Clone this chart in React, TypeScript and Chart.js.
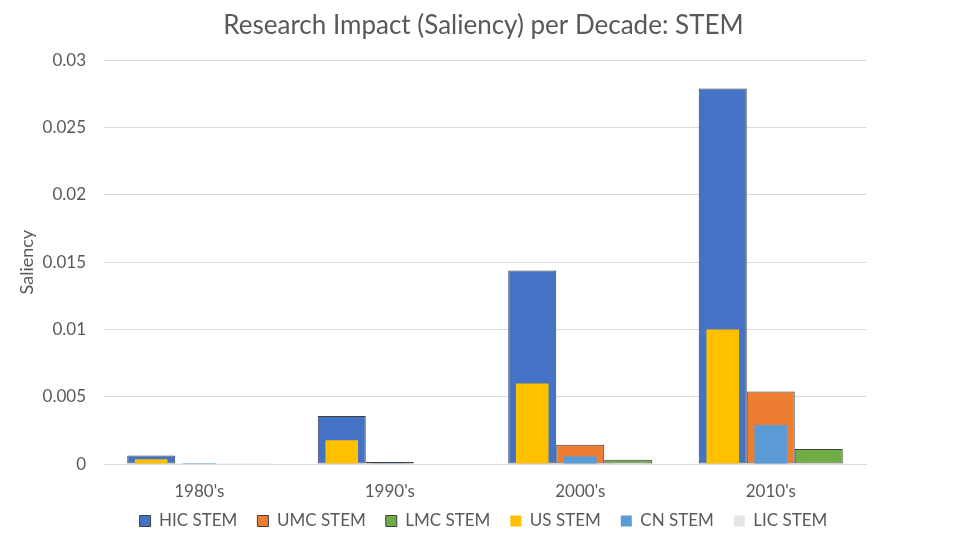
import React, { useEffect, useRef } from 'react';
import { Chart, registerables } from 'chart.js';

Chart.register(...registerables);

// values
const decades = ["1980's", "1990's", "2000's", "2010's"];
const hicStem = [0.00063, 0.00358, 0.01438, 0.0279];
const umcStem = [0.00003, 0.00015, 0.00143, 0.00539];
const lmcStem = [0.00002, 0.00004, 0.00033, 0.00113];
const usStem = [0.00036, 0.00177, 0.00598, 0.01];
const cnStem = [0.000005, 0.00002, 0.00058, 0.00291];
const licStem = [0, 0, 0.00001, 0.00002];

const FONT = 'Lato';
const TEXT = '#595959';

// the legend takes less room than Chart.js asks for, and its row is pulled up under the axis labels
const legendPlacement = {
  id: 'legendPlacement',
  afterInit(chart: any) {
    const legend = chart.legend;
    if (!legend) return;
    const fit = legend.fit;
    legend.fit = function () {
      fit.call(this);
      this.height = 25.5;
    };
  },
  afterLayout(chart: any) {
    const legend = chart.legend;
    if (!legend) return;
    legend.top = 492.5;
    legend.height = 51;
    legend.bottom = legend.top + legend.height;
  },
};

const App = () => {
  const chartRef = useRef<HTMLCanvasElement | null>(null);
  const chartInstance = useRef<Chart | null>(null);

  useEffect(() => {
    document.body.style.margin = '0';
    if (!chartRef.current) return;
    if (chartInstance.current) chartInstance.current.destroy();

    // outer bars and the narrower bars drawn over them share a slot (same stack id)
    const outer = { order: 2, barPercentage: 1, categoryPercentage: 0.756, borderWidth: 1, borderColor: '#3f3f3f', borderSkipped: false as const };
    const inner = { order: 1, barPercentage: 0.68, categoryPercentage: 0.756, borderWidth: 0 };

    chartInstance.current = new Chart(chartRef.current, {
      type: 'bar',
      data: {
        labels: decades,
        datasets: [
          { label: 'HIC STEM', data: hicStem, backgroundColor: '#4472C4', stack: 'a', ...outer },
          { label: 'UMC STEM', data: umcStem, backgroundColor: '#ED7D31', stack: 'b', ...outer },
          { label: 'LMC STEM', data: lmcStem, backgroundColor: '#70AD47', stack: 'c', ...outer },
          { label: 'US STEM', data: usStem, backgroundColor: '#FFC000', stack: 'a', ...inner },
          { label: 'CN STEM', data: cnStem, backgroundColor: '#5B9BD5', stack: 'b', ...inner },
          { label: 'LIC STEM', data: licStem, backgroundColor: '#E7E6E6', stack: 'c', ...inner },
        ],
      },
      plugins: [legendPlacement],
      options: {
        responsive: true,
        maintainAspectRatio: false,
        animation: false,
        layout: { padding: 0 },
        plugins: {
          title: {
            display: true,
            text: 'Research Impact (Saliency) per Decade: STEM',
            color: TEXT,
            font: { family: FONT, size: 26, weight: 'normal' },
            padding: { top: 10.5, bottom: 18.5 },
          },
          legend: {
            position: 'bottom',
            labels: {
              color: TEXT,
              font: { family: FONT, size: 17 },
              boxWidth: 11,
              boxHeight: 11,
              padding: 20,
              sort: (a, b) => (a.datasetIndex ?? 0) - (b.datasetIndex ?? 0),
            },
          },
          tooltip: { enabled: false },
        },
        scales: {
          x: {
            type: 'category',
            stacked: true,
            offset: true,
            grid: { display: false, drawTicks: false },
            border: { display: true, color: '#d9d9d9' },
            ticks: { color: TEXT, font: { family: FONT, size: 17 }, padding: 17 },
          },
          y: {
            stacked: false,
            min: 0,
            max: 0.03,
            grid: { color: '#d9d9d9', drawTicks: false },
            border: { display: false },
            ticks: {
              stepSize: 0.005,
              color: TEXT,
              padding: 18,
              font: { family: FONT, size: 17 },
              callback: (v) => String(+Number(v).toFixed(3)),
            },
            title: {
              display: true,
              text: 'Saliency',
              color: TEXT,
              font: { family: FONT, size: 18 },
              padding: { top: 16, bottom: 0 },
            },
            afterFit: (scale) => {
              scale.width = 104;
            },
          },
          // empty right-hand axis that only reserves space, so title and legend centre on the page
          yRight: {
            position: 'right',
            display: true,
            grid: { display: false, drawTicks: false },
            border: { display: false },
            ticks: { display: false },
            afterFit: (scale) => {
              scale.width = 101;
            },
          },
        },
      },
    });

    return () => {
      if (chartInstance.current) {
        chartInstance.current.destroy();
        chartInstance.current = null;
      }
    };
  }, []);

  return (
    <div style={{ position: 'fixed', left: 0, top: 0, width: 967, height: 544, background: '#fff' }}>
      <canvas ref={chartRef} />
    </div>
  );
};

export default App;
